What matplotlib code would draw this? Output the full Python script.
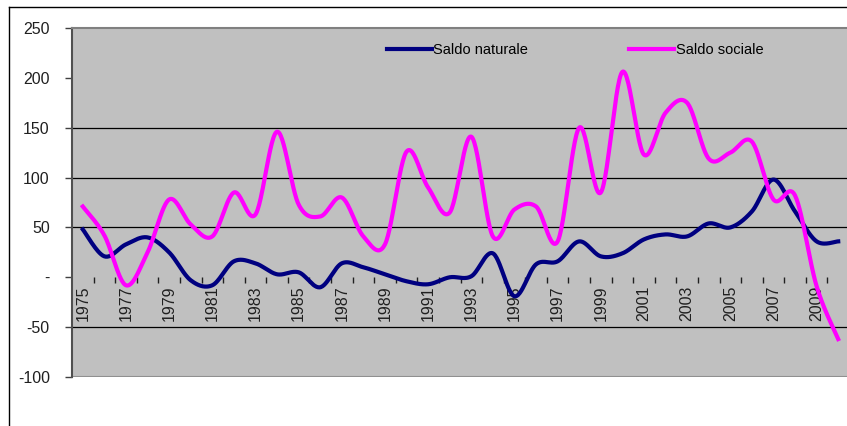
import numpy as np
import matplotlib.pyplot as plt
from matplotlib.lines import Line2D

plt.rcParams['font.family'] = ['Liberation Sans', 'DejaVu Sans']

anni = list(range(1975, 2011))
saldo_naturale = [48, 21, 33, 40, 25, -3, -8, 16, 14, 3, 5, -10, 14, 10, 3, -4,
                  -7, 0, 1, 24, -19, 13, 16, 36, 21, 24, 38, 43, 41, 54, 50, 66,
                  98, 66, 36, 36]
saldo_sociale = [71, 42, -8, 25, 78, 53, 41, 85, 63, 146, 73, 61, 80, 41, 33, 126,
                 90, 65, 141, 41, 68, 71, 36, 150, 85, 206, 123, 165, 175, 119,
                 125, 136, 78, 82, -9, -62]
etichette_y = ['-100', '-50', '-', '50', '100', '150', '200', '250']
valori_y = [-100, -50, 0, 50, 100, 150, 200, 250]


def curva_liscia(y, n=30):
    # spline tipo Excel (Bezier con tangenti Catmull-Rom)
    p = np.column_stack([np.arange(len(y)), np.asarray(y, float)])
    ext = np.vstack([p[0], p, p[-1]])
    xs, ys = [], []
    t = np.linspace(0, 1, n)[:, None]
    for i in range(len(p) - 1):
        p0, p1, p2, p3 = ext[i], ext[i + 1], ext[i + 2], ext[i + 3]
        c1 = p1 + (p2 - p0) / 6
        c2 = p2 - (p3 - p1) / 6
        b = ((1 - t) ** 3) * p1 + 3 * ((1 - t) ** 2) * t * c1 + 3 * (1 - t) * t ** 2 * c2 + t ** 3 * p2
        xs.extend(b[:, 0])
        ys.extend(b[:, 1])
    return xs, ys


fig = plt.figure(figsize=(8.47, 4.26), dpi=100)
ax = fig.add_axes([72 / 847, 49 / 426, 777 / 847, 349 / 426])
ax.set_facecolor('#C0C0C0')

for g in [-50, 50, 100, 150]:
    ax.axhline(g, color='black', lw=0.9, zorder=1)

xn, yn = curva_liscia(saldo_naturale)
xs, ys = curva_liscia(saldo_sociale)
ax.plot(xn, yn, color='#000080', lw=3, label='Saldo naturale', zorder=3)
ax.plot(xs, ys, color='#FF00FF', lw=3, label='Saldo sociale', zorder=3)

ax.set_xlim(-0.5, len(anni) - 0.5)
ax.set_ylim(-100, 250)

ax.set_yticks(valori_y)
ax.set_yticklabels(etichette_y, fontsize=11.5, color='#202020')
ax.tick_params(axis='y', direction='out', length=5, width=1, color='#404040', pad=11)

ax.spines['bottom'].set_position(('data', 0))
ax.spines['bottom'].set_visible(False)
ax.set_xticks(range(0, len(anni), 2))
ax.set_xticklabels([str(a) for a in anni[::2]], rotation=90, fontsize=11.5, color='#202020')
ax.set_xticks(np.arange(0.5, len(anni) - 0.5, 1), minor=True)
ax.tick_params(axis='x', which='major', length=0, pad=6)
ax.tick_params(axis='x', which='minor', direction='out', length=4, width=1, color='#202020')

ax.spines['left'].set_color('#505050')
ax.spines['left'].set_linewidth(1.5)
ax.spines['top'].set_color('#808080')
ax.spines['top'].set_linewidth(1.5)
ax.spines['right'].set_visible(False)
ax.axhline(-100, color='#909090', lw=1.5, zorder=2)

ax.legend(loc='center left', bbox_to_anchor=(0.405, 0.937), ncol=2, frameon=False,
          fontsize=10.5, handlelength=3.1, handletextpad=0.1, columnspacing=6.9,
          borderaxespad=0, borderpad=0)

fig.add_artist(Line2D([9 / 847, 9 / 847], [0, 1 - 7 / 426], color='black', lw=1))
fig.add_artist(Line2D([9 / 847, 1], [1 - 7 / 426, 1 - 7 / 426], color='black', lw=1))

fig.savefig('out.png', dpi=100)
